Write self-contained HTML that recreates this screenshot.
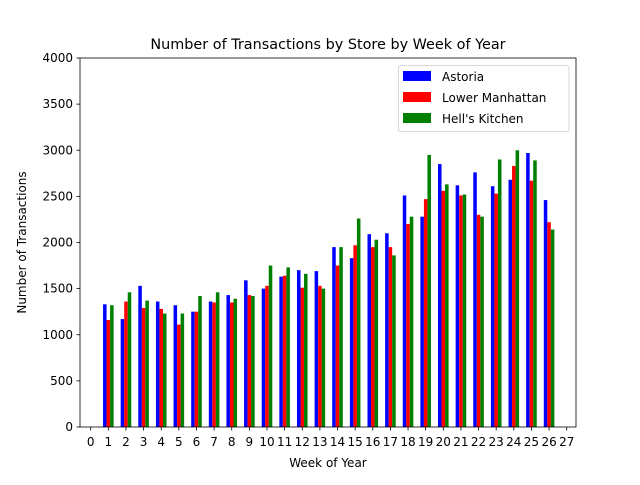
<!DOCTYPE html>
<html><head><meta charset="utf-8"><style>
body{margin:0;background:#fff}svg text{font-family:"DejaVu Sans","Liberation Sans",sans-serif;fill:#000}
</style></head><body>
<svg id="c" width="640" height="480" xmlns="http://www.w3.org/2000/svg">
<rect width="640" height="480" fill="#fff"/>
<text x="328" y="49" font-size="14.4" text-anchor="middle">Number of Transactions by Store by Week of Year</text>
<g id="bars"></g>
<g id="axes"></g>
<rect x="80" y="58" width="496" height="369" fill="none" stroke="#000" stroke-width="0.8"/>
<text x="328" y="467" font-size="12" text-anchor="middle">Week of Year</text>
<text transform="translate(26,242.5) rotate(-90)" font-size="12" text-anchor="middle">Number of Transactions</text>
<g>
<rect x="398.5" y="65.5" width="170.5" height="66" rx="2" fill="#fff" fill-opacity="0.8" stroke="#ccc" stroke-width="0.8"/>
<rect x="403" y="71" width="28" height="10" fill="#0000ff"/>
<text x="442" y="81" font-size="12">Astoria</text>
<rect x="403" y="92" width="28" height="10" fill="#ff0000"/>
<text x="442" y="102" font-size="12">Lower Manhattan</text>
<rect x="403" y="113" width="28" height="10" fill="#008000"/>
<text x="442" y="123" font-size="12">Hell's Kitchen</text>
</g>
</svg>
<script>
const weeks=[1,2,3,4,5,6,7,8,9,10,11,12,13,14,15,16,17,18,19,20,21,22,23,24,25,26];
const astoria=[1330,1170,1530,1360,1320,1250,1360,1430,1590,1500,1630,1700,1690,1950,1830,2090,2100,2510,2280,2850,2620,2760,2610,2680,2970,2460];
const lowerManhattan=[1160,1360,1290,1280,1110,1250,1350,1350,1430,1530,1640,1510,1530,1750,1970,1950,1950,2200,2470,2560,2510,2300,2530,2830,2670,2220];
const hellsKitchen=[1320,1460,1370,1230,1230,1420,1460,1390,1420,1750,1730,1660,1500,1950,2260,2030,1860,2280,2950,2630,2520,2280,2900,3000,2890,2140];
const yTicks=[0,500,1000,1500,2000,2500,3000,3500,4000];
const xTicks=[];for(let i=0;i<=27;i++)xTicks.push(i);
const NS="http://www.w3.org/2000/svg";
const X=v=>90.7+v*17.63, Y=v=>427-v*369/4000;
const bars=document.getElementById('bars'),axes=document.getElementById('axes');
function mk(t,a,p){const e=document.createElementNS(NS,t);for(const k in a)e.setAttribute(k,a[k]);p.appendChild(e);return e;}
const series=[[astoria,'#0000ff',-0.2,'astoria'],[lowerManhattan,'#ff0000',0,'lower-manhattan'],[hellsKitchen,'#008000',0.2,'hells-kitchen']];
series.forEach(([vals,col,off,nm])=>{vals.forEach((v,i)=>{
 const x0=X(weeks[i]+off-0.1),x1=X(weeks[i]+off+0.1);
 const r=mk('rect',{x:x0,y:Y(v),width:x1-x0,height:Y(0)-Y(v),fill:col},bars);
 
 
});});
yTicks.forEach(t=>{const y=Y(t);
 const l=mk('line',{x1:76.5,x2:80,y1:y,y2:y,stroke:'#000','stroke-width':0.8},axes);
 
 
 const tx=mk('text',{x:73,y:y+4,'font-size':12,'text-anchor':'end'},axes);tx.textContent=t;
 
 
});
xTicks.forEach(t=>{const x=X(t);
 const l=mk('line',{x1:x,x2:x,y1:427,y2:430.5,stroke:'#000','stroke-width':0.8},axes);
 
 
 const tx=mk('text',{x:x,y:446,'font-size':12,'text-anchor':'middle'},axes);tx.textContent=t;
 
 
});
</script>
</body></html>
